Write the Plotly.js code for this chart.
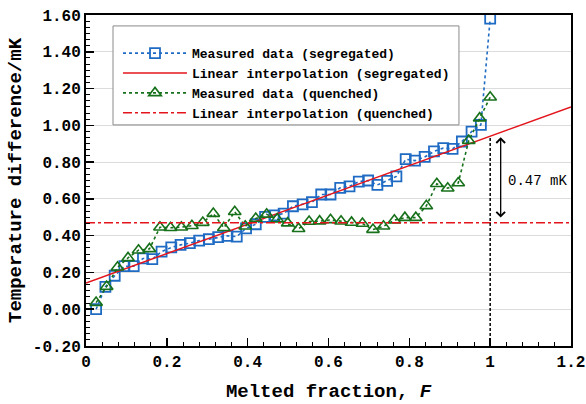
<!DOCTYPE html>
<html>
<head>
<meta charset="utf-8">
<script src="https://cdn.plot.ly/plotly-3.0.1.min.js"></script>
<style>html,body{margin:0;padding:0;background:#fff;}#chart{width:586px;height:404px;}</style>
</head>
<body>
<div id="chart"></div>
<script>
// ---- Data ----
const segF = [0.025,0.048,0.071,0.095,0.118,0.141,0.164,0.187,0.211,0.234,0.257,0.280,0.304,0.327,0.350,0.373,0.396,0.420,0.443,0.466,0.489,0.512,0.536,0.559,0.582,0.605,0.629,0.652,0.675,0.698,0.721,0.745,0.768,0.791,0.814,0.838,0.861,0.884,0.907,0.930,0.954,0.977,1.000];
const segT = [0.000,0.122,0.182,0.234,0.234,0.276,0.272,0.313,0.336,0.350,0.359,0.373,0.381,0.392,0.399,0.395,0.440,0.462,0.502,0.510,0.520,0.560,0.570,0.582,0.624,0.624,0.660,0.668,0.694,0.700,0.676,0.698,0.722,0.816,0.808,0.828,0.858,0.876,0.872,0.912,0.966,1.003,1.580];

const queF = [0.025,0.051,0.078,0.104,0.130,0.157,0.183,0.209,0.236,0.262,0.289,0.315,0.341,0.368,0.394,0.420,0.447,0.473,0.499,0.526,0.552,0.578,0.605,0.631,0.657,0.684,0.710,0.736,0.763,0.789,0.816,0.842,0.868,0.895,0.921,0.947,0.974,1.000];
const queT = [0.036,0.123,0.228,0.279,0.321,0.328,0.446,0.443,0.446,0.454,0.471,0.520,0.443,0.530,0.451,0.493,0.516,0.490,0.468,0.438,0.477,0.479,0.486,0.478,0.472,0.466,0.433,0.451,0.484,0.498,0.498,0.562,0.682,0.658,0.686,0.917,1.039,1.153];

const segFitF = [0, 1.2];
const segFitT = [0.143, 1.100];
const queFitF = [0, 1.2];
const queFitT = [0.470, 0.470];

const xTickVals = [0,0.2,0.4,0.6,0.8,1,1.2];
const xTickText = ["0","0.2","0.4","0.6","0.8","1","1.2"];
const yTickVals = [-0.2,0,0.2,0.4,0.6,0.8,1.0,1.2,1.4,1.6];
const yTickText = ["-0.20","0.00","0.20","0.40","0.60","0.80","1.00","1.20","1.40","1.60"];

// annotation values
const markF = 1.0;            // melted fraction where the gap is read
const markTop = 0.94;         // segregated interpolation at F = 1
const gapArrowF = 1.026;
const gapArrowTop = 0.935;
const gapArrowBottom = 0.49;
const gapLabel = "0.47 mK";
const gapLabelF = 1.04;
const gapLabelT = 0.70;

const FONT = "'Liberation Mono', 'Courier New', monospace";
const BLUE = "#1f6bc4";
const GREEN = "#17701a";
const RED = "#e3141c";

const traces = [
  {x: segF, y: segT, type: 'scatter', mode: 'lines+markers', name: 'Measured data (segregated)',
   line: {color: BLUE, width: 1.6, dash: 'dot'},
   marker: {symbol: 'square-open', size: 10, color: BLUE, line: {width: 1.8, color: BLUE}}},
  {x: segFitF, y: segFitT, type: 'scatter', mode: 'lines', name: 'Linear interpolation (segregated)',
   line: {color: RED, width: 1.5}},
  {x: queF, y: queT, type: 'scatter', mode: 'lines+markers', name: 'Measured data (quenched)',
   line: {color: GREEN, width: 1.6, dash: 'dot'},
   marker: {symbol: 'triangle-up-open', size: 11, color: GREEN, line: {width: 1.6, color: GREEN}}},
  {x: queFitF, y: queFitT, type: 'scatter', mode: 'lines', name: 'Linear interpolation (quenched)',
   line: {color: RED, width: 1.5, dash: 'dashdot'}}
];

const layout = {
  width: 586, height: 404,
  margin: {l: 86, r: 15, t: 15, b: 58},
  paper_bgcolor: '#fff', plot_bgcolor: '#fff',
  font: {family: FONT, color: '#000'},
  showlegend: true,
  legend: {
    x: 0.066, y: 0.930, xanchor: 'left', yanchor: 'top',
    bgcolor: 'rgba(0,0,0,0)', borderwidth: 0,
    font: {family: FONT, size: 13, color: '#000', weight: 700},
    itemwidth: 64, tracegroupgap: 0
  },
  xaxis: {
    range: [0, 1.2], tickvals: xTickVals, ticktext: xTickText,
    ticks: 'inside', ticklen: 8, tickwidth: 1.5, tickcolor: '#000',
    minor: {dtick: 0.04, tick0: 0, ticks: 'inside', ticklen: 4, tickwidth: 1, tickcolor: '#000', showgrid: false},
    showgrid: false, zeroline: false,
    showline: true, linecolor: '#000', linewidth: 2, mirror: true,
    tickfont: {family: FONT, size: 16, color: '#000', weight: 700},
    title: {text: 'Melted fraction, <i>F</i>', font: {family: FONT, size: 19, color: '#000', weight: 700}, standoff: 12}
  },
  yaxis: {
    range: [-0.2, 1.6], tickvals: yTickVals, ticktext: yTickText,
    ticks: 'inside', ticklen: 8, tickwidth: 1.5, tickcolor: '#000',
    minor: {dtick: 0.2/6, tick0: -0.2, ticks: 'inside', ticklen: 4, tickwidth: 1, tickcolor: '#000', showgrid: false},
    showgrid: true, gridcolor: '#dcdcdc', gridwidth: 1, zeroline: false,
    showline: true, linecolor: '#000', linewidth: 2, mirror: true,
    tickfont: {family: FONT, size: 16, color: '#000', weight: 700},
    title: {text: 'Temperature difference/mK', font: {family: FONT, size: 19, color: '#000', weight: 700}, standoff: 6}
  },
  shapes: [
    // legend frame
    {type: 'rect', xref: 'paper', yref: 'paper', x0: 0.0557, x1: 0.769, y0: 0.668, y1: 0.967,
     fillcolor: '#fff', line: {color: '#8a8a8a', width: 1}, layer: 'above'},
    {type: 'line', xref: 'x', yref: 'y', x0: markF, x1: markF, y0: -0.2, y1: markTop,
     line: {color: '#000', width: 1.5, dash: '3px,2px'}}
  ],
  annotations: [
    {xref: 'x', yref: 'y', axref: 'x', ayref: 'y', x: gapArrowF, y: gapArrowTop, ax: gapArrowF, ay: gapArrowBottom,
     text: '', showarrow: true, arrowhead: 4, startarrowhead: 4, arrowside: 'end+start',
     arrowsize: 1.3, startarrowsize: 1.3, arrowwidth: 1.3, arrowcolor: '#000', standoff: 0, startstandoff: 0},
    {xref: 'x', yref: 'y', x: gapLabelF, y: gapLabelT, xanchor: 'left', yanchor: 'middle',
     text: gapLabel, showarrow: false, font: {family: FONT, size: 14, color: '#000'}}
  ]
};

Plotly.newPlot('chart', traces, layout, {displayModeBar: false, staticPlot: true});
</script>
</body>
</html>
